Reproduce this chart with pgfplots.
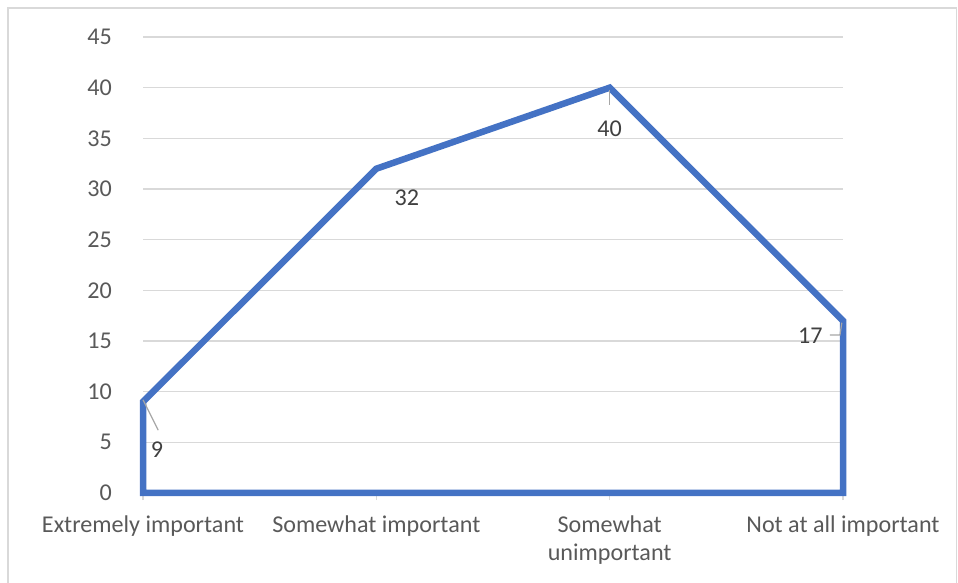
\documentclass[border=0pt]{standalone}
\usepackage{fontspec}
\setmainfont{Carlito}
\usepackage{pgfplots}
\pgfplotsset{compat=1.18}
\definecolor{areablue}{HTML}{4472C4}
\definecolor{gridgray}{HTML}{D9D9D9}
\definecolor{ticktext}{HTML}{595959}
\definecolor{labeltext}{HTML}{404040}
\definecolor{leadergray}{HTML}{A6A6A6}
\newcommand{\chartfont}{\fontsize{24.2pt}{27.5pt}\selectfont}
\begin{document}
\begin{tikzpicture}
\draw[gridgray, line width=1.5bp] (8bp,-5bp) -- (8bp,575bp) -- (956.5bp,575bp) -- (956.5bp,-5bp);
\begin{axis}[
  at={(143bp,90bp)}, anchor=south west,
  scale only axis, width=700bp, height=456bp,
  xmin=0, xmax=3, ymin=0, ymax=45,
  axis line style={draw=none},
  ytick={0,5,...,45},
  ymajorgrids, grid style={gridgray, line width=1.3bp},
  ytick style={draw=none},
  xtick={0,1,2,3},
  xticklabels={Extremely important, Somewhat important, Somewhat\\unimportant, Not at all important},
  xtick style={draw=gridgray, line width=1.2bp},
  tick align=outside, major tick length=7bp,
  xtick pos=bottom,
  /pgf/number format/assume math mode=true,
  tick label style={font=\chartfont, text=ticktext},
  yticklabel style={inner sep=0pt, xshift=-24bp},
  xticklabel style={inner sep=0pt, align=center, yshift=-16bp},
  clip=false,
]
\addplot[draw=areablue, line width=6.5bp, line join=miter, fill=none] coordinates {(0,9) (1,32) (2,40) (3,17)} \closedcycle;
\draw[leadergray, line width=1.2bp] (axis cs:0.0,9.2) -- (axis cs:0.065,6.2);
\draw[leadergray, line width=1.2bp] (axis cs:2,39.8) -- (axis cs:2,38.3);
\draw[leadergray, line width=1.2bp] (axis cs:2.944,15.6) -- (axis cs:2.987,15.6) -- (axis cs:2.995,16.8);
\node[text=labeltext, font=\chartfont] at (axis cs:0.06,4.3) {9};
\node[text=labeltext, font=\chartfont] at (axis cs:1.131,29.1) {32};
\node[text=labeltext, font=\chartfont] at (axis cs:2.0,35.9) {40};
\node[text=labeltext, font=\chartfont] at (axis cs:2.86,15.5) {17};
\end{axis}
\pgfresetboundingbox
\useasboundingbox (0,0) rectangle (958bp,583bp);
\end{tikzpicture}
\end{document}
